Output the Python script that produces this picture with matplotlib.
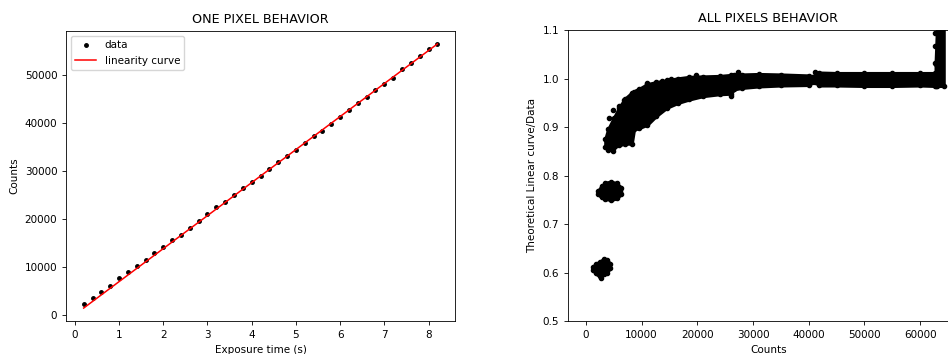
import matplotlib
matplotlib.use("Agg")
import matplotlib.pyplot as plt

# ---- left panel: one pixel ----
exp_time = [0.2, 0.4, 0.6, 0.8, 1.0, 1.2, 1.4, 1.6, 1.8, 2.0, 2.2, 2.4, 2.6, 2.8,
            3.0, 3.2, 3.4, 3.6, 3.8, 4.0, 4.2, 4.4, 4.6, 4.8, 5.0, 5.2, 5.4, 5.6,
            5.8, 6.0, 6.2, 6.4, 6.6, 6.8, 7.0, 7.2, 7.4, 7.6, 7.8, 8.0, 8.2]
counts = [2300, 3600, 4700, 6000, 7600, 8900, 10100, 11500, 12800, 14100,
          15600, 16700, 18200, 19600, 21000, 22400, 23600, 24900, 26400, 27600,
          29000, 30500, 31800, 33200, 34400, 35900, 37200, 38400, 39900, 41300,
          42800, 44100, 45400, 46900, 48200, 49500, 51250, 52500, 54000, 55400,
          56400]
fit_time = [0.2, 8.2]
fit_counts = [1400, 56500]

# ---- right panel: all pixels (envelopes of the point cloud) ----
band_x = [3500, 4000, 5000, 6000, 7000, 8200, 8600, 9500, 11000, 12500, 14500,
          16500, 18500, 21000, 24000, 26000, 26600, 28000, 31000, 35000, 40000,
          40600, 41200, 41800, 45000, 50000, 55000, 60000, 62700]
band_low = [0.858, 0.852, 0.858, 0.863, 0.866, 0.866, 0.895, 0.898, 0.905, 0.922,
            0.940, 0.950, 0.957, 0.964, 0.968, 0.969, 0.978, 0.981, 0.984, 0.986,
            0.987, 0.993, 0.993, 0.986, 0.986, 0.985, 0.985, 0.986, 0.985]
band_high = [0.875, 0.895, 0.918, 0.940, 0.958, 0.970, 0.973, 0.978, 0.988, 0.992,
             0.996, 1.000, 1.003, 1.004, 1.005, 1.007, 1.008, 1.008, 1.009, 1.008,
             1.006, 1.003, 1.005, 1.012, 1.011, 1.011, 1.011, 1.011, 1.011]

sat_x = [62800, 63100, 64200]
sat_low = [0.985, 0.985, 0.985]
sat_high = [1.03, 1.12, 1.12]

low1_x = [1300, 1800, 2500, 3200, 3800, 4300]
low1_low = [0.605, 0.598, 0.592, 0.596, 0.600, 0.610]
low1_high = [0.612, 0.618, 0.622, 0.628, 0.626, 0.618]

low2_x = [2200, 2800, 3500, 4500, 5500, 6300]
low2_low = [0.762, 0.755, 0.752, 0.750, 0.753, 0.762]
low2_high = [0.768, 0.778, 0.785, 0.787, 0.784, 0.775]

out_x = [4070, 4850, 5870, 6770, 8260, 9160, 10960, 13650, 15270, 19760, 27250,
         41200, 62700, 62700, 62700, 4800, 26000, 2700]
out_y = [0.918, 0.935, 0.943, 0.956, 0.968, 0.975, 0.991, 0.995, 1.000, 1.007,
         1.014, 1.013, 1.031, 1.067, 1.093, 0.851, 0.963, 0.589]

fs = 7.5
plt.rcParams["font.size"] = fs
plt.rcParams["axes.linewidth"] = 0.6
plt.rcParams["xtick.major.width"] = 0.6
plt.rcParams["ytick.major.width"] = 0.6
plt.rcParams["xtick.major.size"] = 2.7
plt.rcParams["ytick.major.size"] = 2.7

fig = plt.figure(figsize=(9.48, 3.54), dpi=100)

ax1 = fig.add_axes([0.0696, 0.0932, 0.4104, 0.8192])
ax1.plot(exp_time, counts, "k.", markersize=5, label="data")
ax1.plot(fit_time, fit_counts, "r-", linewidth=1.1, label="linearity curve")
ax1.set_xlim(-0.2, 8.6)
ax1.set_ylim(-1300, 59200)
ax1.set_title("ONE PIXEL BEHAVIOR", fontsize=9.2)
ax1.set_xlabel("Exposure time (s)")
ax1.set_ylabel("Counts")
ax1.legend(loc="upper left", numpoints=1, fontsize=fs)

ax2 = fig.add_axes([0.5988, 0.0932, 0.4236, 0.8220])
for xs, lo, hi in [(band_x, band_low, band_high), (sat_x, sat_low, sat_high),
                   (low1_x, low1_low, low1_high), (low2_x, low2_low, low2_high)]:
    ax2.fill_between(xs, lo, hi, color="k", linewidth=2.5, edgecolor="k")
    ax2.plot(xs, lo, "k.", markersize=6)
    ax2.plot(xs, hi, "k.", markersize=6)
ax2.plot(out_x, out_y, "k.", markersize=6)
ax2.set_xlim(-3277, 68812)
ax2.set_ylim(0.5, 1.1)
ax2.set_title("ALL PIXELS BEHAVIOR", fontsize=9.2)
ax2.set_xlabel("Counts")
ax2.set_ylabel("Theoretical Linear curve/Data")

fig.savefig("out.png", dpi=100)
